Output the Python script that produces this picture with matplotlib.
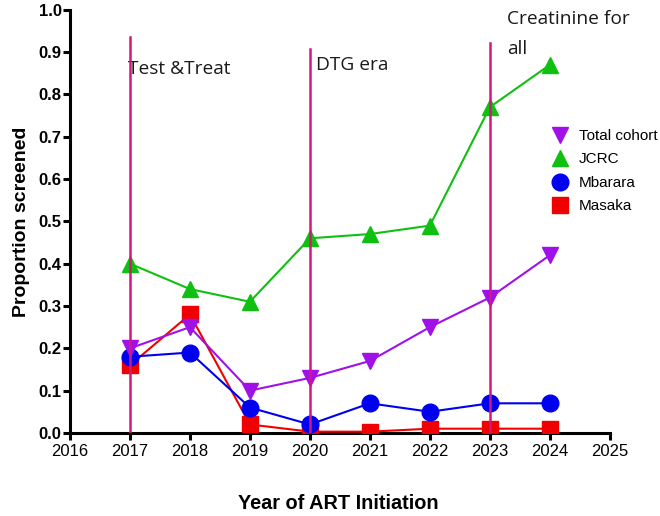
import matplotlib
matplotlib.use("Agg")
import matplotlib.pyplot as plt

plt.rcParams['font.family'] = ['Liberation Sans', 'DejaVu Sans']

years = [2017, 2018, 2019, 2020, 2021, 2022, 2023, 2024]
total_cohort = [0.20, 0.25, 0.10, 0.13, 0.17, 0.25, 0.32, 0.42]
jcrc = [0.40, 0.34, 0.31, 0.46, 0.47, 0.49, 0.77, 0.87]
mbarara = [0.18, 0.19, 0.06, 0.02, 0.07, 0.05, 0.07, 0.07]
masaka = [0.16, 0.28, 0.02, 0.003, 0.003, 0.01, 0.01, 0.01]

event_years = [2017, 2020, 2023]
event_tops = [0.935, 0.908, 0.922]
event_labels = ["Test &Treat", "DTG era", "Creatinine for\nall"]

x_ticks = list(range(2016, 2026))
y_ticks = [0.0, 0.1, 0.2, 0.3, 0.4, 0.5, 0.6, 0.7, 0.8, 0.9, 1.0]

fig = plt.figure(figsize=(6.6, 5.16), dpi=100)
ax = fig.add_axes([0.106, 0.161, 0.818, 0.820])

purple = '#A010E8'
green = '#10C010'
blue = '#0000F0'
red = '#F00000'
magenta = '#D4167E'

ax.plot(years, masaka, color=red, lw=1.5, marker='s', ms=11, label='Masaka', zorder=3)
ax.plot(years, mbarara, color=blue, lw=1.5, marker='o', ms=12, label='Mbarara', zorder=4)
ax.plot(years, jcrc, color=green, lw=1.5, marker='^', ms=12, label='JCRC', zorder=5)
ax.plot(years, total_cohort, color=purple, lw=1.5, marker='v', ms=12, label='Total cohort', zorder=6)

for yr, top in zip(event_years, event_tops):
    ax.plot([yr, yr], [0, top], color=magenta, lw=1.8, zorder=7)

annot_font = ['Open Sans', 'DejaVu Sans']
ax.text(2016.97, 0.86, event_labels[0], fontsize=13.8, family=annot_font, ha='left', va='center', color='#1a1a1a')
ax.text(2020.1, 0.87, event_labels[1], fontsize=13.8, family=annot_font, ha='left', va='center', color='#1a1a1a')
ax.text(2023.28, 1.0, event_labels[2], fontsize=13.8, family=annot_font, ha='left', va='top', color='#1a1a1a', linespacing=1.85)

ax.set_xlim(2016, 2025)
ax.set_ylim(0, 1.0)
ax.set_xticks(x_ticks)
ax.set_yticks(y_ticks)
ax.set_yticklabels([f"{v:.1f}" for v in y_ticks], fontweight='bold', fontsize=12)
ax.set_xticklabels([str(v) for v in x_ticks], fontsize=12)

for s in ['top', 'right']:
    ax.spines[s].set_visible(False)
for s in ['left', 'bottom']:
    ax.spines[s].set_linewidth(2.2)
ax.tick_params(axis='both', width=2.2, length=5, direction='out', colors='black')
ax.tick_params(axis='x', pad=3)
ax.tick_params(axis='y', pad=1)

ax.set_ylabel('Proportion screened', fontsize=14, fontweight='bold', labelpad=6)
fig.text(0.512, 0.025, 'Year of ART Initiation', fontsize=14.3, fontweight='bold', ha='center', va='center')

handles, labels = ax.get_legend_handles_labels()
order = [3, 2, 1, 0]
leg = fig.legend([handles[i] for i in order], [labels[i] for i in order],
                 loc='upper left', bbox_to_anchor=(0.826, 0.762), frameon=False,
                 fontsize=11, handlelength=1.2, handletextpad=0.6, labelspacing=0.62,
                 borderaxespad=0)
for h in leg.legend_handles:
    h.set_linestyle('None')

fig.savefig('out.png', dpi=100, facecolor='white')
